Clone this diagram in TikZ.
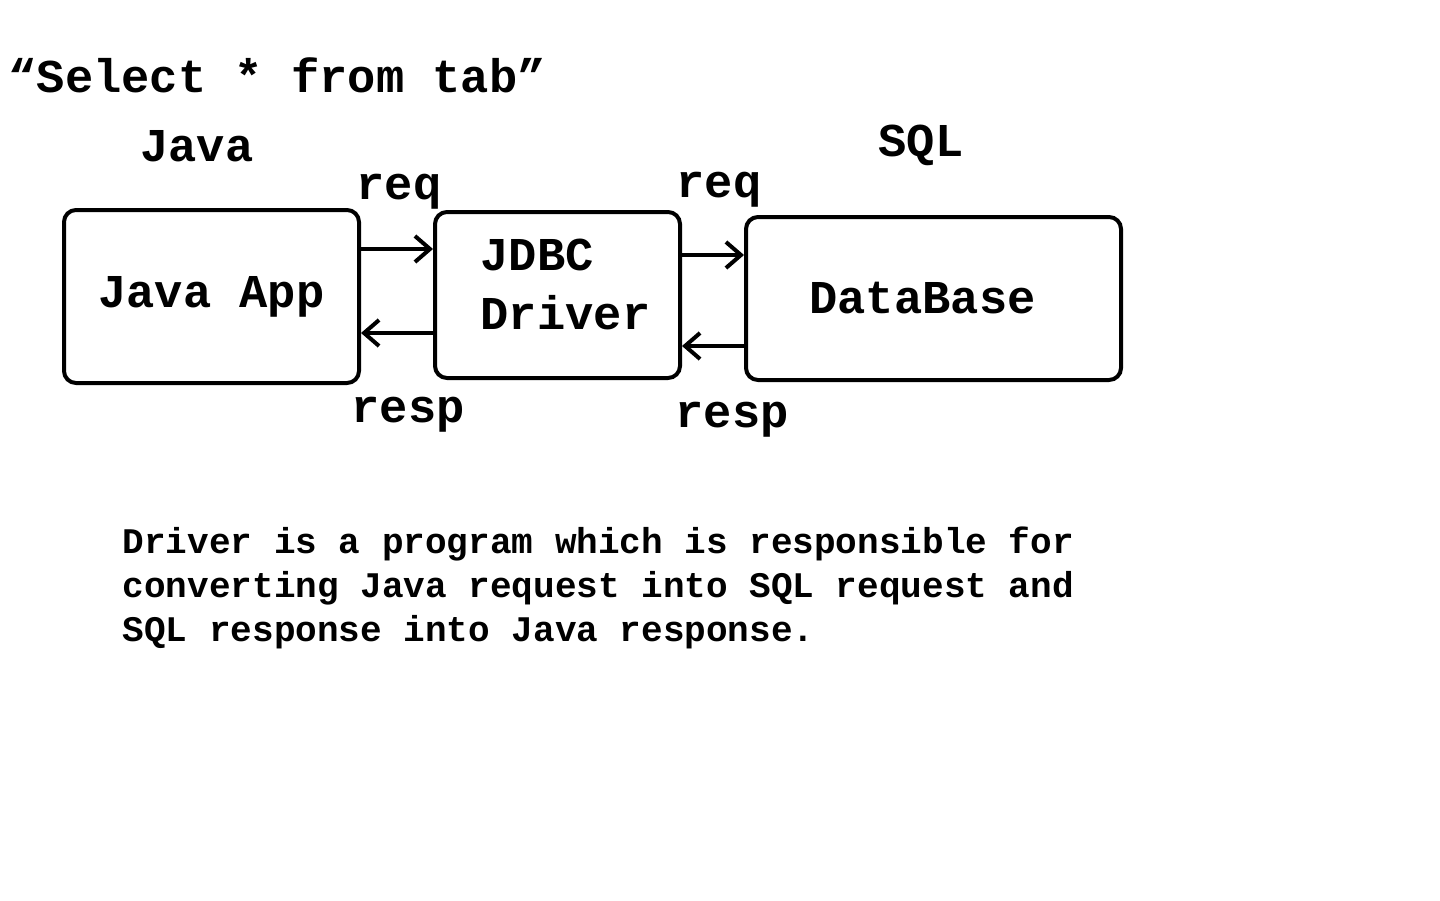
\documentclass[tikz,border=0pt]{standalone}
\usepackage{fontspec}
\setmainfont{Liberation Mono}
\usetikzlibrary{arrows.meta}

\newcommand{\bigfont}{\fontsize{13.4pt}{16.8pt}\selectfont\bfseries}
\newcommand{\notefont}{\fontsize{10.25pt}{12.5pt}\selectfont\bfseries}

\tikzset{
  box/.style={draw, rounded corners=1.2mm, line width=0.4mm, font=\bigfont, inner sep=0pt},
  lbl/.style={inner sep=0pt, font=\bigfont, anchor=base},
  flow/.style={-{Straight Barb[length=1.5mm,width=2.6mm]}, line width=0.4mm},
}

\begin{document}
\begin{tikzpicture}[x=0.1mm, y=-0.1mm]
    \useasboundingbox (0,0) rectangle (1440,900);

    \node[lbl, anchor=base west] (query) at (8,93) {“Select * from tab”};
    \node[lbl] (javalbl) at (197,162) {Java};
    \node[lbl] (sqllbl) at (921,156) {SQL};

    \node[box, minimum width=29.5mm, minimum height=17.3mm] (japp) at (211.5,296.5) {Java App};
    \node[box, minimum width=24.5mm, minimum height=16.6mm] (jdbc) at (557.5,295) {};
    \node[box, minimum width=37.5mm, minimum height=16.3mm] (db) at (933.5,298.5) {};
    \node[lbl, anchor=center, align=left] (jdbctext) at ([xshift=0.8mm, yshift=1.1mm]jdbc.center) {JDBC\\Driver};
    \node[lbl, anchor=center] (dbtext) at ([xshift=-1.1mm]db.center) {DataBase};

    % requests
    \coordinate (req1) at ([yshift=4.75mm]japp.east);
    \coordinate (req2) at ([yshift=4mm]jdbc.east);
    \draw[flow] (req1) -- (req1 -| jdbc.west);
    \draw[flow] (req2) -- (req2 -| db.west);

    % responses
    \coordinate (resp1) at ([yshift=-3.8mm]jdbc.west);
    \coordinate (resp2) at ([yshift=-4.75mm]db.west);
    \draw[flow] (resp1) -- (resp1 -| japp.east);
    \draw[flow] (resp2) -- (resp2 -| jdbc.east);

    \node[lbl] (reqa) at (399,199) {req};
    \node[lbl] (reqb) at (719,197) {req};
    \node[lbl] (respa) at (408,422) {resp};
    \node[lbl] (respb) at (732,427) {resp};

    \node[anchor=north west, inner sep=0pt, align=left, font=\notefont] (note) at (122,526)
        {Driver is a program which is responsible for\\
         converting Java request into SQL request and\\
         SQL response into Java response.};
\end{tikzpicture}
\end{document}
